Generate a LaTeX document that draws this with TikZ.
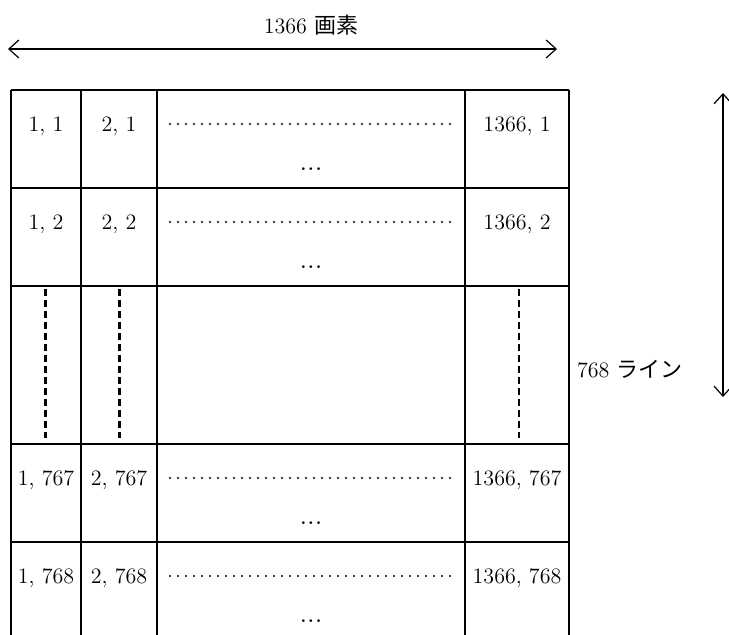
\documentclass[tikz,border=0pt]{standalone}
\usepackage{fontspec}
\newfontfamily\jpfont{Noto Sans CJK JP}
\usetikzlibrary{arrows.meta}

\begin{document}
\begin{tikzpicture}[x=0.5pt,y=-0.5pt,
    >={Straight Barb[length=5pt,width=9pt]},
    grid/.style={line width=1pt},
    cell/.style={font=\fontsize{11}{13}\selectfont},
    dim/.style={<->,line width=0.6pt},
    dotrow/.style={line width=1.2pt,line cap=round,dash pattern=on 0pt off 4pt},
    vdots/.style={line width=1.5pt,dash pattern=on 3.5pt off 2pt}]
\useasboundingbox (0,0) rectangle (729,635);

% dimension arrows
\coordinate (hl) at (8,49);
\coordinate (hr) at (557,49);
\draw[dim] (hl) -- (hr);
\node[cell] (width) at (311,25) {1366 {\jpfont 画素}};
\coordinate (vt) at (723,93);
\coordinate (vb) at (723,397);
\draw[dim] (vt) -- (vb);
\node[cell,anchor=west] (height) at (570,369) {768 {\jpfont ライン}};

% grid
\foreach \y in {90,188,286,444,542}
    \draw[grid] (11,\y) -- (569,\y);
\foreach \x in {11,81,157,465,569}
    \draw[grid] (\x,90) -- (\x,635);

% cells
\foreach \t/\r in {90/1,188/2,444/767,542/768}{
    \node[cell] (c1-\r) at (46,\t+36) {1, \r};
    \node[cell] (c2-\r) at (119,\t+36) {2, \r};
    \node[cell] (cn-\r) at (517,\t+36) {1366, \r};
    \coordinate (dl-\r) at (170,\t+34);
    \coordinate (dr-\r) at (451,\t+34);
    \draw[dotrow] (dl-\r) -- (dr-\r);
    \node[cell,font=\fontsize{14}{16}\selectfont] (el-\r) at (311,\t+79) {...};
}

% skipped rows
\coordinate (a1) at (45,289);
\coordinate (b1) at (45,438);
\coordinate (a2) at (119,289);
\coordinate (b2) at (119,438);
\coordinate (a3) at (519,289);
\coordinate (b3) at (519,438);
\draw[vdots] (a1) -- (b1);
\draw[vdots] (a2) -- (b2);
\draw[vdots,line width=1pt] (a3) -- (b3);
\end{tikzpicture}
\end{document}
